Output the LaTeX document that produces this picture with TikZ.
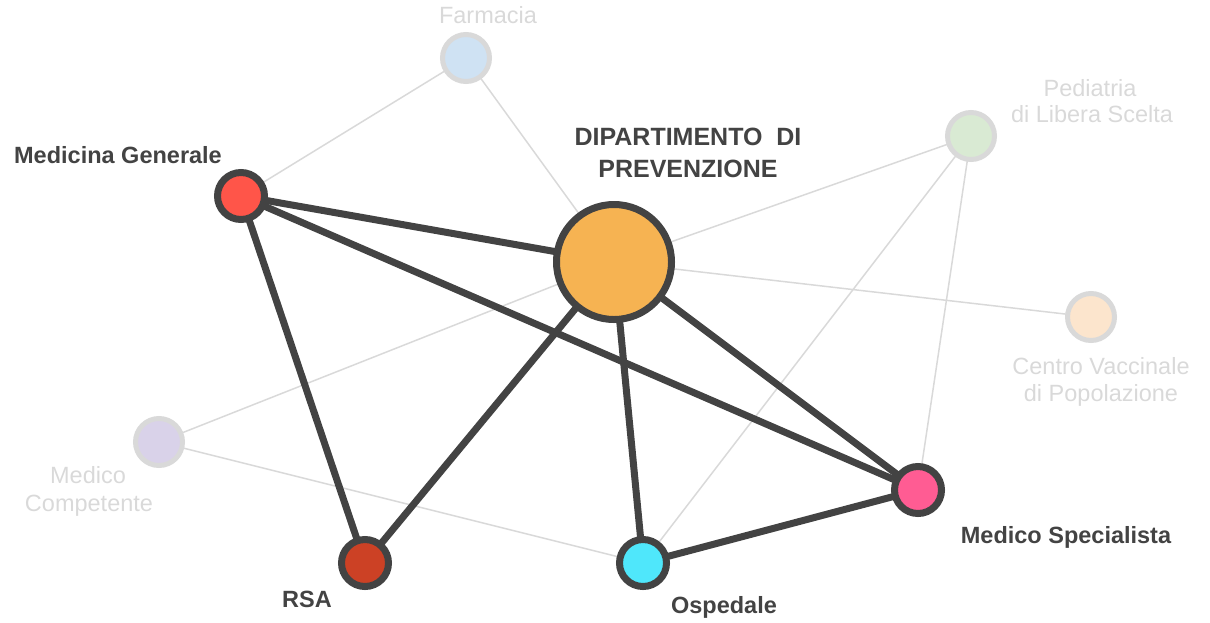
\documentclass[tikz,border=0pt]{standalone}
\usepackage{fontspec}
\setmainfont{Liberation Sans}
\definecolor{dark}{HTML}{434343}
\definecolor{lightg}{HTML}{D9D9D9}
\definecolor{farm}{HTML}{CFE2F3}
\definecolor{ped}{HTML}{D9EAD3}
\definecolor{cvp}{HTML}{FCE5CD}
\definecolor{mcomp}{HTML}{D9D2E9}
\definecolor{mg}{HTML}{FF5549}
\definecolor{dp}{HTML}{F6B352}
\definecolor{ms}{HTML}{FF5C93}
\definecolor{rsa}{HTML}{CC4125}
\definecolor{osp}{HTML}{4FE7FB}
\tikzset{
  x=1pt, y=-1pt,
  mainnode/.style={circle, draw=dark, line width=7pt, inner sep=0pt, minimum size=47pt},
  bignode/.style={circle, draw=dark, line width=7pt, inner sep=0pt, minimum size=115pt},
  minornode/.style={circle, draw=lightg, line width=5pt, inner sep=0pt, minimum size=47pt},
  strong/.style={draw=dark, line width=7pt},
  weak/.style={draw=lightg, line width=1.5pt},
  darklabel/.style={text=dark, font=\fontsize{23.5}{27}\selectfont\bfseries, inner sep=0pt, anchor=base},
  lightlabel/.style={text=lightg, font=\fontsize{23.5}{27}\selectfont, inner sep=0pt, align=center},
}
\begin{document}
\begin{tikzpicture}
\useasboundingbox (0,0) rectangle (1210,622);
% nodes (positions)
\coordinate (cfa) at (466,58);
\coordinate (cpe) at (971,136);
\coordinate (ccv) at (1091,317);
\coordinate (cmc) at (159,442);
\coordinate (cmg) at (241,196);
\coordinate (cdp) at (614,262);
\coordinate (cms) at (918,490);
\coordinate (crs) at (365,563);
\coordinate (cos) at (643,563);
% weak edges
\draw[weak] (cfa) -- (cmg);
\draw[weak] (cfa) -- (cdp);
\draw[weak] (cpe) -- (cdp);
\draw[weak] (cpe) -- (cos);
\draw[weak] (cpe) -- (cms);
\draw[weak] (cdp) -- (ccv);
\draw[weak] (cdp) -- (cmc);
\draw[weak] (cmc) -- (cos);
% strong edges
\draw[strong] (cmg) -- (cdp);
\draw[strong] (cmg) -- (crs);
\draw[strong] (cmg) -- (cms);
\draw[strong] (cdp) -- (crs);
\draw[strong] (cdp) -- (cos);
\draw[strong] (cdp) -- (cms);
\draw[strong] (cos) -- (cms);
% circles
\node[minornode, fill=farm] (fa) at (cfa) {};
\node[minornode, fill=ped] (pe) at (cpe) {};
\node[minornode, fill=cvp] (cv) at (ccv) {};
\node[minornode, fill=mcomp] (mc) at (cmc) {};
\node[mainnode, fill=mg] (mg) at (cmg) {};
\node[bignode, fill=dp] (dp) at (cdp) {};
\node[mainnode, fill=ms] (ms) at (cms) {};
\node[mainnode, fill=rsa] (rs) at (crs) {};
\node[mainnode, fill=osp] (os) at (cos) {};
% labels
\node[lightlabel, anchor=base] (lfa) at (488,23) {Farmacia};
\node[lightlabel, anchor=base] (lpe1) at (1090,96) {Pediatria};
\node[lightlabel, anchor=base] (lpe2) at (1092,122) {di Libera Scelta};
\node[lightlabel, anchor=base] (lcv1) at (1101,374) {Centro Vaccinale};
\node[lightlabel, anchor=base] (lcv2) at (1101,401) {di Popolazione};
\node[lightlabel, anchor=base] (lmc1) at (88,483) {Medico};
\node[lightlabel, anchor=base] (lmc2) at (89,511) {Competente};
\node[darklabel] (lmg) at (118,163) {Medicina Generale};
\node[darklabel, font=\fontsize{25}{30}\selectfont\bfseries] (ldp1) at (688,145) {DIPARTIMENTO\ \ DI};
\node[darklabel, font=\fontsize{25}{30}\selectfont\bfseries] (ldp2) at (688,177) {PREVENZIONE};
\node[darklabel] (lms) at (1066,543) {Medico Specialista};
\node[darklabel] (lrs) at (307,607) {RSA};
\node[darklabel] (los) at (724,613) {Ospedale};
\end{tikzpicture}
\end{document}
